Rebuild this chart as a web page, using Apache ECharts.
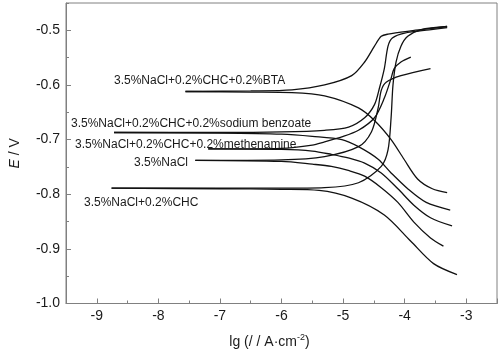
<!DOCTYPE html>
<html lang="en">
<head>
    <meta charset="UTF-8">
    <title>polarization curves</title>
    <script src="https://cdn.jsdelivr.net/npm/echarts@6/dist/echarts.min.js"></script>
    <style>
        html, body { margin: 0; padding: 0; background: #fff; }
        #main { width: 500px; height: 354px; }
    </style>
</head>
<body>
<div id="main"></div>
<script type="text/javascript">
    // tick label values
    var xTicks = [-9, -8, -7, -6, -5, -4, -3];
    var yTicks = [-1.0, -0.9, -0.8, -0.7, -0.6, -0.5];

    // [lg i, E], each branch starts at the corrosion potential
    var btaAnodic = [[-7.56,-0.612],[-6.5,-0.611],[-5.83,-0.609],[-5.30,-0.600],[-4.86,-0.583],[-4.65,-0.558],[-4.49,-0.529],[-4.38,-0.511],[-4.27,-0.507],[-3.9,-0.501],[-3.6,-0.497],[-3.31,-0.493]];
    var btaCathodic = [[-7.56,-0.612],[-6.5,-0.613],[-5.83,-0.614],[-5.30,-0.620],[-4.75,-0.642],[-4.49,-0.665],[-4.22,-0.700],[-4.01,-0.736],[-3.79,-0.772],[-3.55,-0.790],[-3.31,-0.797]];

    var benzoateAnodic = [[-8.72,-0.687],[-7,-0.687],[-6,-0.686],[-5.30,-0.683],[-4.91,-0.677],[-4.65,-0.660],[-4.49,-0.636],[-4.41,-0.606],[-4.33,-0.570],[-4.27,-0.529],[-4.2,-0.514],[-4.0,-0.505],[-3.6,-0.499],[-3.31,-0.495]];
    var benzoateCathodic = [[-8.72,-0.687],[-7,-0.688],[-6,-0.690],[-5.5,-0.694],[-5.02,-0.700],[-4.75,-0.713],[-4.43,-0.736],[-4.22,-0.761],[-3.95,-0.790],[-3.65,-0.815],[-3.26,-0.829]];

    var methenamineAnodic = [[-7.19,-0.717],[-6,-0.716],[-5.5,-0.710],[-5.30,-0.704],[-5.02,-0.695],[-4.75,-0.683],[-4.49,-0.660],[-4.33,-0.624],[-4.22,-0.588],[-4.17,-0.570],[-4.06,-0.558],[-3.90,-0.549]];
    var methenamineCathodic = [[-7.19,-0.717],[-6,-0.718],[-5.5,-0.721],[-5.19,-0.727],[-4.9,-0.734],[-4.65,-0.743],[-4.38,-0.761],[-4.11,-0.790],[-3.85,-0.820],[-3.58,-0.843],[-3.23,-0.858]];

    var naclAnodic = [[-7.4,-0.738],[-6,-0.737],[-5.30,-0.731],[-4.75,-0.713],[-4.54,-0.686],[-4.43,-0.642],[-4.38,-0.610],[-4.30,-0.595],[-4.06,-0.583],[-3.58,-0.570]];
    var naclCathodic = [[-7.4,-0.738],[-6,-0.740],[-5.5,-0.745],[-5.19,-0.749],[-4.9,-0.757],[-4.65,-0.767],[-4.38,-0.788],[-4.11,-0.815],[-3.85,-0.851],[-3.58,-0.880],[-3.37,-0.895]];

    var chcAnodic = [[-8.76,-0.789],[-7,-0.789],[-6,-0.789],[-5.30,-0.788],[-4.75,-0.779],[-4.38,-0.749],[-4.27,-0.719],[-4.22,-0.660],[-4.19,-0.601],[-4.14,-0.558],[-4.06,-0.529],[-3.95,-0.511],[-3.74,-0.499],[-3.31,-0.493]];
    var chcCathodic = [[-8.76,-0.789],[-7,-0.790],[-6,-0.791],[-5.39,-0.793],[-4.86,-0.807],[-4.33,-0.838],[-3.9,-0.886],[-3.53,-0.927],[-3.15,-0.947]];

    var curveNames = ['3.5%NaCl+0.2%CHC+0.2%BTA', '3.5%NaCl+0.2%CHC+0.2%sodium benzoate',
        '3.5%NaCl+0.2%CHC+0.2%methenamine', '3.5%NaCl', '3.5%NaCl+0.2%CHC'];
    var branches = [
        [btaAnodic, btaCathodic],
        [benzoateAnodic, benzoateCathodic],
        [methenamineAnodic, methenamineCathodic],
        [naclAnodic, naclCathodic],
        [chcAnodic, chcCathodic]
    ];

    var myChart = echarts.init(document.getElementById('main'));

    var series = [];
    branches.forEach(function (pair, i) {
        pair.forEach(function (d) {
            series.push({
                name: curveNames[i],
                type: 'line',
                xAxisIndex: 0,
                yAxisIndex: 0,
                data: d,
                showSymbol: false,
                smooth: 0.3,
                animation: false,
                lineStyle: { color: '#111', width: 1.3 }
            });
        });
    });

    // curve labels as they sit in the plot (pixel placement)
    var labelFont = '12px "Liberation Sans", Arial, sans-serif';
    var labelPos = [[114, 75], [71, 118], [75, 139], [134, 157], [84, 197]];
    var graphics = curveNames.map(function (t, i) {
        return {
            type: 'text', left: labelPos[i][0], top: labelPos[i][1],
            style: { text: t, font: labelFont, fill: '#1a1a1a' }
        };
    });

    var axisGray = '#808080';
    var tickFont = { color: '#1a1a1a', fontSize: 14, fontFamily: '"Liberation Sans", Arial, sans-serif' };

    var option = {
        animation: false,
        grid: {
            left: 61, right: 3, top: 3, bottom: 43,
            show: true, borderColor: axisGray, borderWidth: 1
        },
        xAxis: [{
            type: 'value',
            min: -9.5, max: -2.5,
            splitNumber: 7,
            name: 'lg (/ / A·cm{sup|-2})',
            nameLocation: 'middle',
            nameGap: 30,
            nameTextStyle: {
                color: '#1a1a1a', fontSize: 14, fontFamily: '"Liberation Sans", Arial, sans-serif',
                padding: [0, 24, 0, 0],
                rich: { sup: { fontSize: 9, verticalAlign: 'top', padding: [0, 0, 8, 0], color: '#1a1a1a' } }
            },
            axisLine: { lineStyle: { color: axisGray } },
            axisTick: { inside: true, length: 5, lineStyle: { color: axisGray } },
            axisLabel: Object.assign({
                margin: 6,
                formatter: function (v) { return xTicks.indexOf(v) >= 0 ? String(v) : ''; }
            }, tickFont),
            splitLine: { show: false }
        }, {
            // half-unit minor ticks
            type: 'value', position: 'bottom',
            min: -9.5, max: -2.5, interval: 0.5,
            axisLine: { show: false },
            axisTick: { inside: true, length: 3, lineStyle: { color: axisGray } },
            axisLabel: { show: false },
            splitLine: { show: false }
        }],
        yAxis: [{
            type: 'value',
            min: -1.0, max: -0.45, interval: 0.1,
            name: '{i|E} / V',
            nameLocation: 'middle',
            nameRotate: 90,
            nameGap: 44,
            nameTextStyle: {
                color: '#1a1a1a', fontSize: 14, fontFamily: '"Liberation Sans", Arial, sans-serif',
                rich: { i: { fontStyle: 'italic', fontSize: 14, color: '#1a1a1a' } }
            },
            axisLine: { lineStyle: { color: axisGray } },
            axisTick: { inside: true, length: 5, lineStyle: { color: axisGray } },
            axisLabel: Object.assign({
                margin: 6,
                showMaxLabel: false,
                formatter: function (v) {
                    var r = Math.round(v * 10) / 10;
                    return yTicks.indexOf(r) >= 0 && Math.abs(r - v) < 1e-6 ? r.toFixed(1) : '';
                }
            }, tickFont),
            splitLine: { show: false }
        }, {
            type: 'value', position: 'left',
            min: -1.0, max: -0.45, interval: 0.05,
            axisLine: { show: false },
            axisTick: { inside: true, length: 3, lineStyle: { color: axisGray } },
            axisLabel: { show: false },
            splitLine: { show: false }
        }],
        graphic: graphics,
        series: series
    };

    myChart.setOption(option);
</script>
</body>
</html>
